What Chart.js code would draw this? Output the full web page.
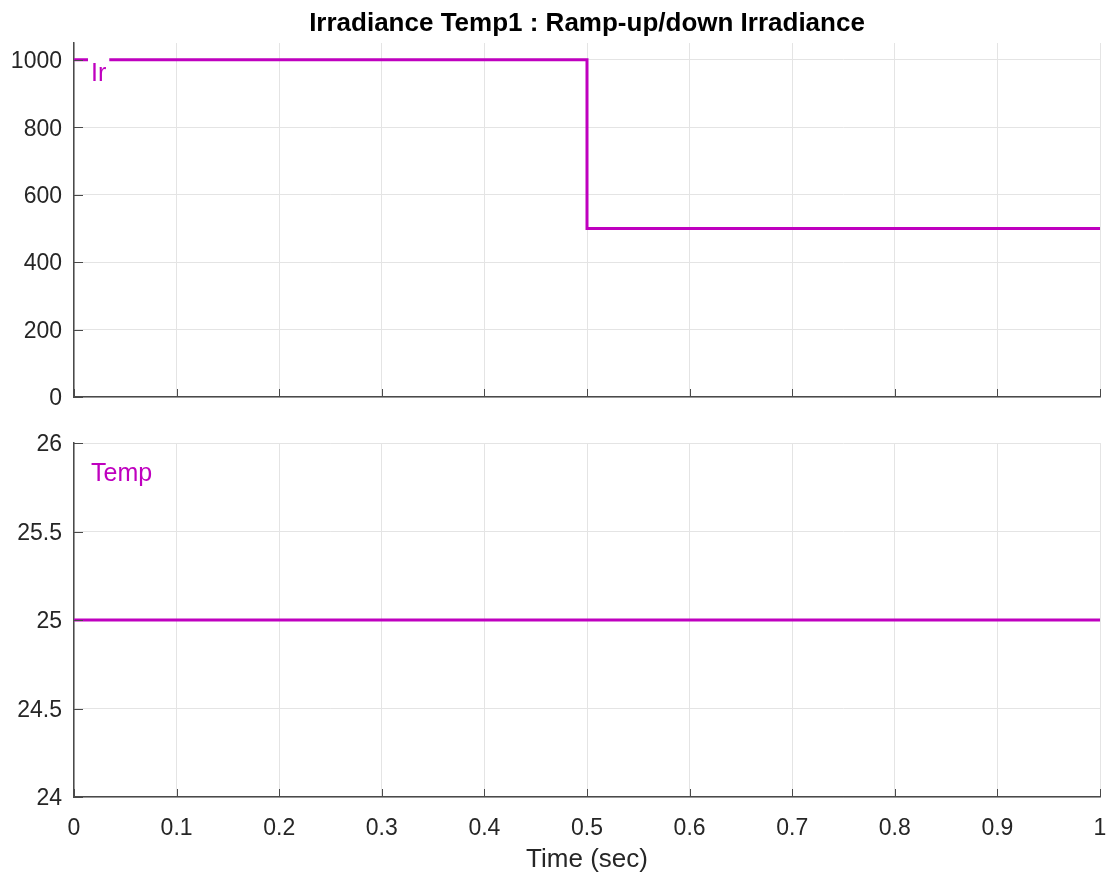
<!DOCTYPE html>
<html>
<head>
<meta charset="utf-8">
<script src="https://cdn.jsdelivr.net/npm/chart.js@4"></script>
<style>
  body { margin: 0; background: #fff; }
  #wrap { position: relative; width: 1107px; height: 878px; }
  .painel { position: absolute; left: 0; }
  #cima { top: 0; }
  #baixo { top: 420px; }
</style>
</head>
<body>
<div id="wrap">
  <div class="painel" id="cima"><canvas id="irChart" width="1107" height="410"></canvas></div>
  <div class="painel" id="baixo"><canvas id="tempChart" width="1107" height="458"></canvas></div>
</div>
<script>
// dados
const tempo = [0, 0.5, 0.5, 1];
const irradiancia = [1000, 1000, 500, 500];
const tempoTemp = [0, 1];
const temperatura = [25, 25];
const ticksX = [0, 0.1, 0.2, 0.3, 0.4, 0.5, 0.6, 0.7, 0.8, 0.9, 1];
const ticksIr = [0, 200, 400, 600, 800, 1000];
const ticksTemp = [24, 24.5, 25, 25.5, 26];

const cor = 'rgb(191,0,191)';
const corEixo = '#4a4a4a';
const corGrade = '#e4e4e4';
const corTexto = '#262626';
const fonte = '"Liberation Sans", Arial, sans-serif';

Chart.defaults.font.family = fonte;
Chart.defaults.color = corTexto;

// marcas internas dos eixos + rotulo da serie
const marcas = {
  id: 'marcas',
  afterDatasetsDraw(chart, args, opts) {
    const { ctx, chartArea: a, scales } = chart;
    ctx.save();
    ctx.strokeStyle = corEixo;
    ctx.lineWidth = 1;
    scales.x.ticks.forEach(t => {
      const x = Math.round(scales.x.getPixelForValue(t.value)) + 0.5;
      ctx.beginPath();
      ctx.moveTo(x, a.bottom);
      ctx.lineTo(x, a.bottom - 8);
      ctx.stroke();
    });
    scales.y.ticks.forEach(t => {
      const y = Math.round(scales.y.getPixelForValue(t.value)) + 0.5;
      ctx.beginPath();
      ctx.moveTo(a.left, y);
      ctx.lineTo(a.left + 9, y);
      ctx.stroke();
    });

    ctx.font = '25px ' + fonte;
    const w = ctx.measureText(opts.texto).width;
    const x = a.left + 17;
    const base = a.top + 38;
    ctx.fillStyle = '#fff';
    ctx.fillRect(x - 3, a.top + 13, w + 6, 32);
    ctx.fillStyle = cor;
    ctx.textBaseline = 'alphabetic';
    ctx.fillText(opts.texto, x, base);
    ctx.restore();
  }
};

function eixoX(comRotulos) {
  return {
    type: 'linear',
    min: 0,
    max: 1,
    afterBuildTicks: s => { s.ticks = ticksX.map(v => ({ value: v })); },
    afterFit: s => {
      s.height = comRotulos ? 81 : 13;
      s.paddingLeft = 0;
      s.paddingRight = 0;
    },
    grid: { color: corGrade, lineWidth: 1, drawTicks: false },
    border: { color: corEixo, width: 1.5 },
    ticks: {
      display: comRotulos,
      padding: 18,
      maxRotation: 0,
      font: { size: 23 },
      callback: v => String(v)
    },
    title: {
      display: comRotulos,
      text: 'Time (sec)',
      font: { size: 26 },
      padding: { top: 0, bottom: 3 }
    }
  };
}

function eixoY(min, max, lista) {
  return {
    min,
    max,
    afterBuildTicks: s => { s.ticks = lista.map(v => ({ value: v })); },
    afterFit: s => {
      s.width = 74;
      s.paddingTop = 0;
      s.paddingBottom = 0;
    },
    grid: { color: corGrade, lineWidth: 1, drawTicks: false },
    border: { color: corEixo, width: 1.5 },
    ticks: { padding: 12, labelOffset: 2, font: { size: 23 }, callback: v => String(v) }
  };
}

new Chart(document.getElementById('irChart'), {
  type: 'scatter',
  data: {
    datasets: [{
      label: 'Ir',
      data: tempo.map((t, i) => ({ x: t, y: irradiancia[i] })),
      showLine: true,
      borderColor: cor,
      borderWidth: 3,
      pointRadius: 0,
      tension: 0
    }]
  },
  options: {
    responsive: false,
    animation: false,
    layout: { padding: { right: 7 } },
    plugins: {
      legend: { display: false },
      tooltip: { enabled: false },
      title: {
        display: true,
        fullSize: false,
        text: 'Irradiance Temp1 : Ramp-up/down Irradiance',
        color: '#000',
        font: { size: 26, weight: 'bold', lineHeight: 1.2 },
        padding: { top: 8, bottom: 3.8 }
      },
      marcas: { texto: 'Ir' }
    },
    scales: {
      x: eixoX(false),
      y: eixoY(0, 1050, ticksIr)
    }
  },
  plugins: [marcas]
});

new Chart(document.getElementById('tempChart'), {
  type: 'scatter',
  data: {
    datasets: [{
      label: 'Temp',
      data: tempoTemp.map((t, i) => ({ x: t, y: temperatura[i] })),
      showLine: true,
      borderColor: cor,
      borderWidth: 3,
      pointRadius: 0,
      tension: 0
    }]
  },
  options: {
    responsive: false,
    animation: false,
    layout: { padding: { top: 23, right: 7 } },
    plugins: {
      legend: { display: false },
      tooltip: { enabled: false },
      marcas: { texto: 'Temp' }
    },
    scales: {
      x: eixoX(true),
      y: eixoY(24, 26, ticksTemp)
    }
  },
  plugins: [marcas]
});
</script>
</body>
</html>
